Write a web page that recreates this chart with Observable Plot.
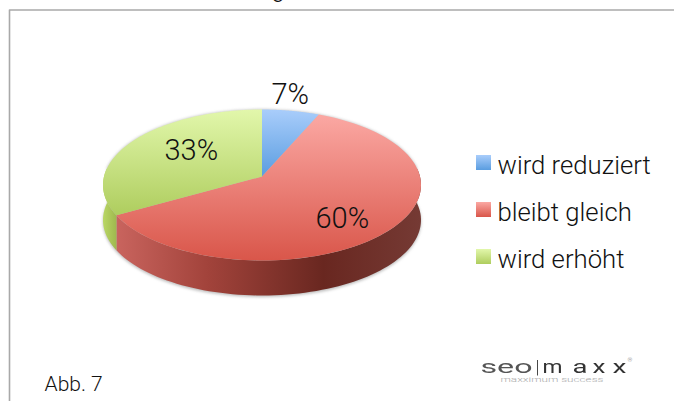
<!DOCTYPE html>
<html><head><meta charset="utf-8">
<script src="https://cdn.jsdelivr.net/npm/d3@7"></script>
<script src="https://cdn.jsdelivr.net/npm/@observablehq/plot@0.6"></script>
<style>html,body{margin:0;padding:0;background:#fff}svg{display:block}</style>
</head><body><div id="chart"></div>
<script>
const categories = ["wird reduziert", "bleibt gleich", "wird erhöht"];
const shares = [6.5, 60.3, 33.2];
const labels = ["7%", "60%", "33%"];
const wallStops = [["0%","#c9645e"],["30%","#a2433b"],["68%","#692720"],["100%","#753a34"]];
const topStops = [
  [["0%","#a9cdfb"],["100%","#5a9de0"]],
  [["0%","#fba8a3"],["100%","#d9564a"]],
  [["0%","#e2f7ab"],["100%","#aecd5e"]]
];
const logoParts = [
  {text: "seo", x: 480, len: 52, fill: "#555"},
  {text: "|", x: 535.5, len: 3, fill: "#333"},
  {text: "m", x: 542, len: 20, fill: "#333"},
  {text: "a", x: 572, len: 15, fill: "#333"},
  {text: "x", x: 592, len: 13, fill: "#333"},
  {text: "x", x: 612, len: 14, fill: "#333"}
];
const logoTagline = "maxximum success";
const FONT = "Roboto, 'Liberation Sans', Arial, sans-serif";

// perspective of the pie top
const cx = 261.5, cy = 176, a = 158, b = 74.5, k = 0.1126, depth = 35;
const project = (t) => {
  const u = Math.sin(t), v = Math.cos(t), d = 1 + k * v;
  return {x: cx + a * u / d, y: cy - b * v / d};
};
const TAU = 2 * Math.PI;
const total = d3.sum(shares);
let acc = 0;
const slices = shares.map((s, i) => {
  const t0 = acc / total * TAU; acc += s; const t1 = acc / total * TAU;
  return {i, t0, t1};
});
const arcPts = (t0, t1, dy = 0) => d3.range(0, 81).map(j => {
  const p = project(t0 + (t1 - t0) * j / 80); return {x: p.x, y: p.y + dy};
});
const topPoly = s => [{x: cx, y: cy}, ...arcPts(s.t0, s.t1), {x: cx, y: cy}];
const wallPoly = (t0, t1) => [...arcPts(t0, t1), ...arcPts(t0, t1, depth).reverse()];
const tRight = Math.PI / 2 - 0.11, tLeft = 3 * Math.PI / 2 + 0.11;
const redWall = wallPoly(tRight, slices[1].t1);
const greenWall = wallPoly(slices[1].t1, tLeft);
const shadow = [...arcPts(tRight - 0.2, tLeft + 0.2, depth + 1.5), ...arcPts(tLeft, tRight + TAU)];

const poly = (pts, fill, extra = {}) => Plot.line(pts, {x: "x", y: "y", fill, stroke: "none", curve: "linear", ...extra});
const gradients = () => {
  const defs = d3.create("svg:defs");
  const add = (id, stops, horiz) => {
    const g = defs.append("linearGradient").attr("id", id).attr("x1", 0).attr("y1", 0).attr("x2", horiz ? 1 : 0).attr("y2", horiz ? 0 : 1);
    stops.forEach(([o, c]) => g.append("stop").attr("offset", o).attr("stop-color", c));
  };
  topStops.forEach((s, i) => add("top" + i, s, false));
  add("wall", wallStops, true);
  add("gwall", [["0%", "#b9d765"], ["100%", "#9fb84e"]], true);
  return defs.node();
};

const txt = (text, x, y, fontSize, extra = {}) => Plot.text([text], {x: () => x, y: () => y, text: d => d, fontSize, fontFamily: FONT, fontWeight: 300, textAnchor: "start", lineAnchor: "bottom", fill: "#111", ...extra});

const legendRows = categories.map((c, i) => ({c, i, y1: 155 + 47 * i, y2: 170 + 47 * i}));

const chart = Plot.plot({
  width: 674, height: 401, margin: 0,
  x: {domain: [0, 674], range: [0, 674], axis: null},
  y: {domain: [0, 401], range: [0, 401], axis: null},
  style: {background: "#fff", overflow: "hidden"},
  marks: [
    gradients,
    Plot.line([{x: 9, y: 401}, {x: 9, y: 9.5}, {x: 674, y: 9.5}], {x: "x", y: "y", stroke: "#a9a9a9", strokeWidth: 1.6}),
    txt("g", 271, -4, 24),
    poly(shadow, "#666", {fillOpacity: 0.45, imageFilter: "blur(1.6px)"}),
    poly(redWall, "url(#wall)"),
    poly(greenWall, "url(#gwall)"),
    ...slices.map(s => poly(topPoly(s), `url(#top${s.i})`)),
    txt(labels[0], 271, 103, 29),
    txt(labels[2], 164, 159, 29),
    txt(labels[1], 315, 227, 29),
    ...legendRows.map(r => Plot.rect([r], {x1: () => 476, x2: () => 491, y1: "y1", y2: "y2", fill: `url(#top${r.i})`})),
    ...legendRows.map(r => txt(r.c, 497, r.y2 + 3, 25.7)),
    txt("Abb. 7", 44, 390, 21),
    ...logoParts.map(p => txt(p.text, p.x, 372, 18, {fill: p.fill, fontWeight: 400, imageFilter: "blur(0.3px)"})),
    txt("®", 627, 361, 6, {fill: "#777"}),
    txt(logoTagline, 500, 381, 7, {fill: "#aaa"})
  ]
});
// stretch the logo lettering to its measured widths
const queue = [...logoParts, {text: logoTagline, len: 103}];
chart.querySelectorAll("text").forEach(el => {
  if (queue.length && el.textContent === queue[0].text) {
    el.setAttribute("textLength", queue[0].len);
    el.setAttribute("lengthAdjust", "spacingAndGlyphs");
    queue.shift();
  }
});
document.getElementById("chart").append(chart);
</script></body></html>
